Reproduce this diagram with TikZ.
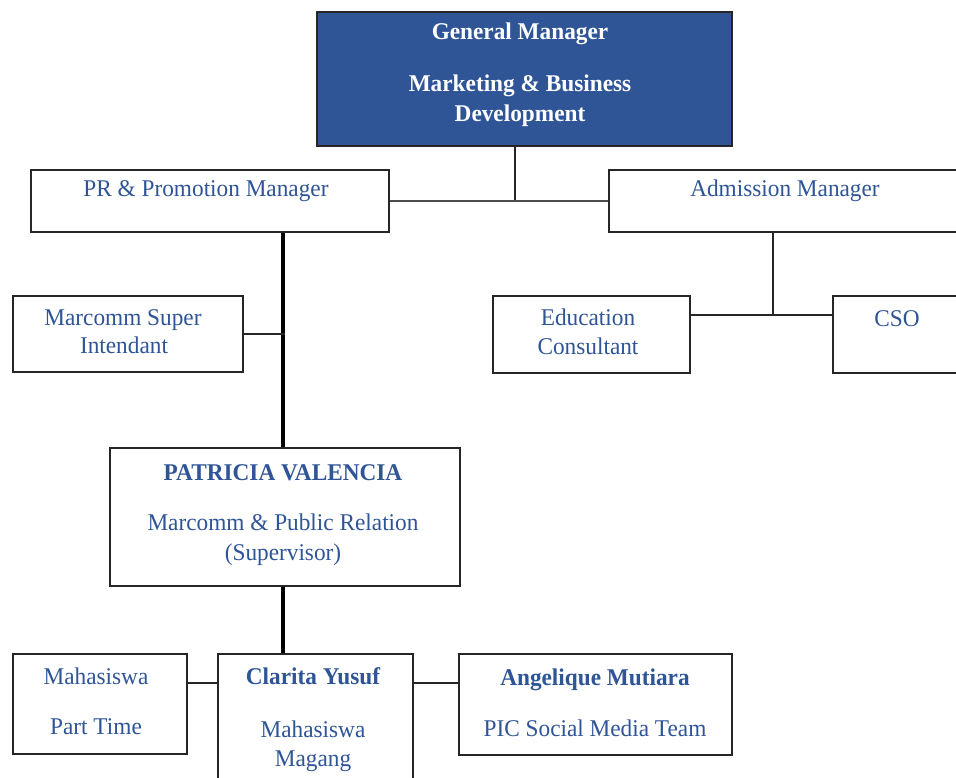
\documentclass[tikz,border=0pt]{standalone}
\usepackage{fontspec}
\setmainfont[FakeStretch=0.97]{Liberation Serif}
\definecolor{gmblue}{HTML}{2F5597}
\definecolor{txtblue}{HTML}{2F5597}
\begin{document}
\begin{tikzpicture}[x=1pt,y=-1pt,
  box/.style={draw=black!85, line width=1.9pt, fill=white, inner sep=0pt, anchor=north west},
  txt/.style={text=txtblue, font=\fontsize{24}{30}\selectfont, anchor=base, inner sep=0pt},
  btxt/.style={txt, font=\fontsize{24}{30}\selectfont\bfseries},
  wtxt/.style={btxt, text=white},
  conn/.style={draw=black!85, line width=1.9pt},
  gconn/.style={draw=black!70, line width=1.9pt},
  thickconn/.style={draw=black, line width=3.4pt}]
\useasboundingbox (0,0) rectangle (956,778);
\clip (0,0) rectangle (956,778);
\fill[white] (0,0) rectangle (956,778);
% boxes
\node[box, fill=gmblue, minimum width=415pt, minimum height=134pt] (gm) at (316,11) {};
\node[box, minimum width=358pt, minimum height=62pt] (pr) at (30,169) {};
\node[box, minimum width=360pt, minimum height=62pt] (adm) at (608,169) {};
\node[box, minimum width=230pt, minimum height=76pt] (ms) at (12,295) {};
\node[box, minimum width=197pt, minimum height=77pt] (edu) at (492,295) {};
\node[box, minimum width=140pt, minimum height=77pt] (cso) at (832,295) {};
\node[box, minimum width=350pt, minimum height=138pt] (pv) at (109,447) {};
\node[box, minimum width=174pt, minimum height=100pt] (pt) at (12,653) {};
\node[box, minimum width=195pt, minimum height=140pt] (cl) at (217,653) {};
\node[box, minimum width=273pt, minimum height=101pt] (ang) at (458,653) {};
% connectors
\coordinate (gmj) at ([xshift=-9.5pt]gm.south);
\coordinate (pvt) at ([xshift=-2pt]pv.north);
\coordinate (pvb) at ([xshift=-2pt]pv.south);
\draw[conn] (gmj) -- (gmj |- pr.east);
\draw[gconn] (pr.east) -- (adm.west);
\draw[thickconn] (pvt |- pr.south) -- (pvt);
\draw[conn] (ms.east) -- ([xshift=2pt]ms.east -| pvt);
\draw[conn] ([xshift=165pt]adm.south west) |- ([yshift=-20pt]edu.north east);
\draw[conn] ([yshift=-20pt]edu.north east) -- ([yshift=-20pt]cso.north west);
\draw[thickconn] (pvb) -- (pvb |- cl.north);
\draw[conn] ([yshift=-30pt]pt.north east) -- ([yshift=-30pt]cl.north west);
\draw[conn] ([yshift=-30pt]cl.north east) -- ([yshift=-30pt]ang.north west);
% texts
\node[wtxt] (gm1) at (520,40) {General Manager};
\node[wtxt] (gm2) at (520,92) {Marketing \& Business};
\node[wtxt] (gm3) at (520,122) {Development};
\node[txt] (pr1) at (206,197) {PR \& Promotion Manager};
\node[txt] (adm1) at (785,197) {Admission Manager};
\node[txt] (ms1) at (123,325) {Marcomm Super};
\node[txt] (ms2) at (124,353) {Intendant};
\node[txt] (edu1) at (588,325) {Education};
\node[txt] (edu2) at (588,354) {Consultant};
\node[txt] (cso1) at (897,326) {CSO};
\node[btxt] (pv1) at (283,480) {PATRICIA VALENCIA};
\node[txt] (pv2) at (283,530) {Marcomm \& Public Relation};
\node[txt] (pv3) at (283,560) {(Supervisor)};
\node[txt] (pt1) at (96,684) {Mahasiswa};
\node[txt] (pt2) at (96,734) {Part Time};
\node[btxt] (cl1) at (313,684) {Clarita Yusuf};
\node[txt] (cl2) at (313,737) {Mahasiswa};
\node[txt] (cl3) at (313,766) {Magang};
\node[btxt] (ang1) at (595,685) {Angelique Mutiara};
\node[txt] (ang2) at (595,736) {PIC Social Media Team};
\end{tikzpicture}
\end{document}
